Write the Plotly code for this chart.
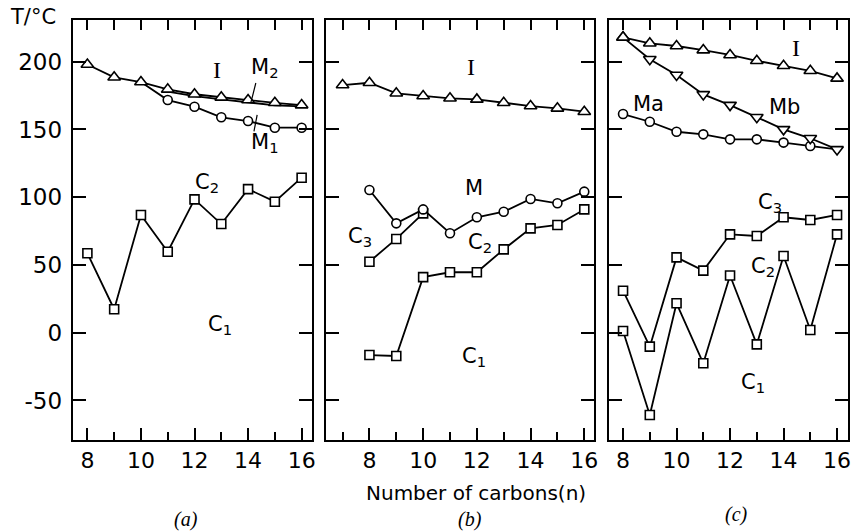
import plotly.graph_objects as go

W, H = 855, 532

# ---------------- data ----------------
n_a = [8, 9, 10, 11, 12, 13, 14, 15, 16]
a_I = [198, 188.5, 185, 179.6, 176, 173.7, 171.7, 169.7, 168]
n_a_M1 = [10, 11, 12, 13, 14, 15, 16]
a_M1 = [185, 171.7, 166.8, 159, 156.2, 151.3, 151.3]
n_a_M2 = [11, 12, 13, 14, 15, 16]
a_M2 = [178, 174.6, 172.2, 170, 167.8, 167]
a_C = [58.6, 17.3, 86.9, 59.8, 98.4, 80.2, 106, 96.7, 114.4]

n_b_I = [7, 8, 9, 10, 11, 12, 13, 14, 15, 16]
b_I = [182.8, 184.5, 176.7, 174.7, 173, 172.2, 169.7, 167.3, 165.6, 163.1]
n_b = [8, 9, 10, 11, 12, 13, 14, 15, 16]
b_M = [105.3, 80.7, 91, 73.4, 85.2, 89.3, 98.7, 95.5, 104.1]
n_b_C3 = [8, 9, 10]
b_C3 = [52.4, 69.2, 88.1]
b_C1 = [-16.5, -17.2, 41, 44.6, 44.6, 61.5, 77, 79.5, 91]

n_c = [8, 9, 10, 11, 12, 13, 14, 15, 16]
c_I = [218, 213.6, 211.6, 208.6, 205, 200.7, 197, 193.3, 187.7]
c_Mb = [218, 201.8, 190.2, 175.9, 168, 159, 150.1, 143.5, 135.3]
c_Ma = [161.4, 155.7, 148.3, 146.4, 142.7, 142.7, 140.3, 137.8, 135.3]
c_C3 = [31, -10.3, 55.6, 45.8, 72.6, 71.4, 85.2, 83.2, 86.9]
c_C2 = [1.3, -60.7, 21.7, -22.6, 42.2, -8.6, 56.6, 2, 72.6]

x_ranges = [[7.45, 16.37], [6.4, 16.37], [7.48, 16.41]]
y_range = [-79.2, 230.8]
y_ticks = [-50, 0, 50, 100, 150, 200]
y_ticklabels = ["-50", "0", "50", "100", "150", "200"]
x_ticks = [8, 10, 12, 14, 16]

# ---------------- figure ----------------
fig = go.Figure()
LW = 1.8
MS = 9
ML = dict(color="black", width=1.6)
FONT = "DejaVu Sans"


def add(x, y, sym, axis, size=MS, mode="lines+markers"):
    fig.add_trace(go.Scatter(
        x=x, y=y, mode=mode, xaxis=axis[0], yaxis=axis[1],
        line=dict(color="black", width=LW),
        marker=dict(symbol=sym, size=size, color="white", line=ML),
        showlegend=False, cliponaxis=False))


A = ("x", "y")
B = ("x2", "y2")
C = ("x3", "y3")

# panel a
add(n_a_M2, a_M2, "circle", A, mode="lines")
add(n_a_M1, a_M1, ["triangle-up"] + ["circle"] * (len(a_M1) - 1), A)
add(n_a, a_I, "triangle-up", A, size=MS + 2)
add(n_a, a_C, "square", A)

# panel b
add(n_b_I, b_I, "triangle-up", B, size=MS + 2)
add(n_b_C3, b_C3, "square", B)
add(n_b, b_M, "circle", B)
add(n_b, b_C1, "square", B)

# panel c
add(n_c, c_Ma, ["circle"] * (len(c_Ma) - 1) + ["triangle-down"], C)
add(n_c, c_Mb, ["triangle-up"] + ["triangle-down"] * (len(c_Mb) - 1), C, size=MS + 2)
add(n_c, c_I, "triangle-up", C, size=MS + 2)
add(n_c, c_C3, "square", C)
add(n_c, c_C2, "square", C)

domains = [[73 / W, 313 / W], [328 / W, 597 / W], [612 / W, 852 / W]]
ydom = [1 - 440 / H, 1 - 20 / H]

layout = dict(
    width=W, height=H, margin=dict(l=0, r=0, t=0, b=0),
    paper_bgcolor="white", plot_bgcolor="white",
    font=dict(family=FONT, size=20, color="black"),
)
for i in range(3):
    sx = "" if i == 0 else str(i + 1)
    layout["xaxis" + sx] = dict(
        domain=domains[i], range=x_ranges[i], anchor="y" + sx,
        showgrid=False, zeroline=False, showline=True, linecolor="black",
        linewidth=2, mirror=True, ticks="inside", ticklen=12, tickwidth=1.6,
        tickcolor="black", tickvals=x_ticks, ticktext=[str(v) for v in x_ticks],
        minor=dict(dtick=1, tick0=0, ticks="inside", ticklen=8, tickwidth=1.6,
                   tickcolor="black"),
        tickfont=dict(size=22, family=FONT), ticklabelstandoff=0,
    )
    layout["yaxis" + sx] = dict(
        domain=ydom, range=y_range, anchor="x" + sx,
        showgrid=False, zeroline=False, showline=True, linecolor="black",
        linewidth=2, mirror="ticks", ticks="inside", ticklen=13, tickwidth=1.6,
        tickcolor="black", tickvals=y_ticks, ticktext=y_ticklabels,
        showticklabels=(i == 0), tickfont=dict(size=23, family=FONT),
        ticklabelstandoff=4,
    )
fig.update_layout(**layout)

# top ticks at every integer, all equal length
for i in range(3):
    sx = "" if i == 0 else str(i + 1)
    fig.update_layout(**{"xaxis" + str(4 + i): dict(
        domain=domains[i], range=x_ranges[i], overlaying="x" + sx,
        anchor="y" + sx, side="top", showgrid=False, zeroline=False,
        showline=False, ticks="inside", ticklen=10, tickwidth=1.6,
        tickcolor="black", dtick=1, tick0=0, showticklabels=False)})
    fig.add_trace(go.Scatter(x=[None], y=[None], xaxis="x" + str(4 + i),
                             yaxis="y" + sx, showlegend=False))

labels = [
    ("x", "y", 12.84, 194, "I", "Liberation Serif", 24),
    ("x", "y", 14.6, 195.4, "M<sub>2</sub>", FONT, 21),
    ("x", "y", 14.6, 140, "M<sub>1</sub>", FONT, 21),
    ("x", "y", 12.45, 110.5, "C<sub>2</sub>", FONT, 21),
    ("x", "y", 12.95, 5.7, "C<sub>1</sub>", FONT, 21),
    ("x2", "y2", 11.77, 196, "I", "Liberation Serif", 24),
    ("x2", "y2", 11.88, 106.8, "M", FONT, 21),
    ("x2", "y2", 7.65, 70.6, "C<sub>3</sub>", FONT, 21),
    ("x2", "y2", 12.1, 66.2, "C<sub>2</sub>", FONT, 21),
    ("x2", "y2", 11.9, -18, "C<sub>1</sub>", FONT, 21),
    ("x3", "y3", 14.47, 210, "I", "Liberation Serif", 24),
    ("x3", "y3", 8.97, 168.8, "Ma", FONT, 21),
    ("x3", "y3", 14.02, 166.6, "Mb", FONT, 21),
    ("x3", "y3", 13.5, 95.7, "C<sub>3</sub>", FONT, 21),
    ("x3", "y3", 13.25, 48.5, "C<sub>2</sub>", FONT, 21),
    ("x3", "y3", 12.85, -37, "C<sub>1</sub>", FONT, 21),
]
for xr, yr, x, y, t, fam, sz in labels:
    fig.add_annotation(x=x, y=y, xref=xr, yref=yr, text=t, showarrow=False,
                       xanchor="center", yanchor="middle",
                       font=dict(size=sz, family=fam))

# leader lines for M2, M1
fig.add_shape(type="line", xref="x", yref="y", x0=14.29, y0=184.3, x1=14.1,
              y1=169.5, line=dict(color="black", width=1.2))
fig.add_shape(type="line", xref="x", yref="y", x0=14.22, y0=148.6, x1=14.34,
              y1=160.7, line=dict(color="black", width=1.2))

fig.add_annotation(x=33 / W, y=1 - 17 / H, xref="paper", yref="paper",
                   xanchor="center", yanchor="middle",
                   text="T/°C", showarrow=False, font=dict(size=21, family=FONT))
fig.add_annotation(x=478 / W, y=1 - 493 / H, xref="paper", yref="paper",
                   xanchor="center", yanchor="middle",
                   text="Number of carbons(n)", showarrow=False,
                   font=dict(size=20, family=FONT))
for px, py, t in [(187, 519, "(a)"), (472, 519, "(b)"), (740, 514, "(c)")]:
    fig.add_annotation(x=px / W, y=1 - py / H, xref="paper", yref="paper",
                       xanchor="center", yanchor="middle",
                       text="<i>" + t + "</i>", showarrow=False,
                       font=dict(size=20, family="Liberation Serif"))

fig.write_html("out.html")
